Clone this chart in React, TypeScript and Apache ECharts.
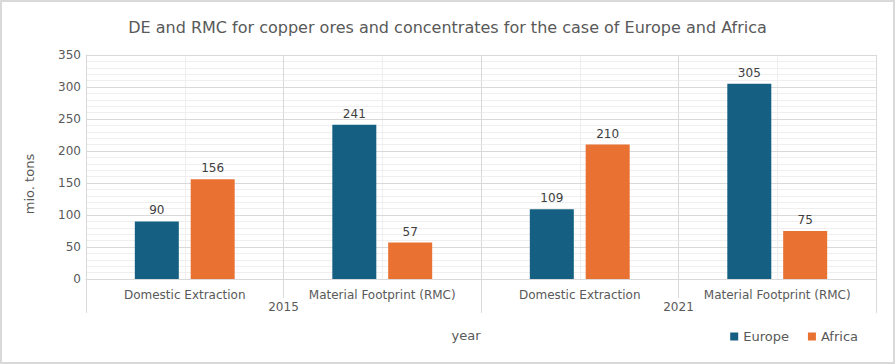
import React, { useEffect, useRef } from "react";
import * as echarts from "echarts";

const title = "DE and RMC for copper ores and concentrates for the case of Europe and Africa";
const categories = [
  "Domestic Extraction",
  "Material Footprint (RMC)",
  "Domestic Extraction",
  "Material Footprint (RMC)",
];
const years = ["2015", "2021"];
const halfSlots = ["a", "b", "c", "d", "e", "f", "g", "h"];
const europe = [90, 241, 109, 305];
const africa = [156, 57, 210, 75];
const seriesNames = ["Europe", "Africa"];
const yTicks = { min: 0, max: 350, interval: 50 };

export default function App() {
  const ref = useRef<HTMLDivElement>(null);
  useEffect(() => {
    if (!ref.current) return;
    const chart = echarts.init(ref.current, null, { renderer: "svg" });
    const text = "#595959";
    const grid = "#d9d9d9";
    const light = "#efefef";
    chart.setOption({
      animation: false,
      textStyle: { fontFamily: "DejaVu Sans" },
      title: {
        text: title,
        left: "center",
        top: 12,
        textStyle: { fontSize: 16, fontWeight: "normal", color: text, fontFamily: "DejaVu Sans" },
      },
      legend: {
        data: seriesNames,
        right: 30,
        top: 323,
        icon: "rect",
        itemWidth: 8,
        itemHeight: 8,
        itemGap: 19,
        textStyle: { fontSize: 13, color: text, fontFamily: "DejaVu Sans" },
      },
      grid: { left: 84, right: 17, top: 53, bottom: 83, containLabel: false },
      xAxis: [
        {
          type: "category",
          data: categories,
          position: "bottom",
          z: 3,
          axisLine: { show: true, lineStyle: { color: grid, width: 1 } },
          axisTick: { show: true, length: 19, lineStyle: { color: grid } },
          axisLabel: { fontSize: 12, color: text, margin: 10, interval: 0 },
          splitLine: { show: true, lineStyle: { color: grid, width: 1 } },
        },
        {
          type: "category",
          data: years,
          position: "bottom",
          z: 3,
          axisLine: { show: false },
          axisTick: { show: true, length: 34, lineStyle: { color: grid } },
          axisLabel: { fontSize: 12, color: text, margin: 22 },
          splitLine: { show: false },
          name: "year",
          nameLocation: "middle",
          nameGap: 50,
          nameTextStyle: { fontSize: 13, color: text, padding: [0, 30, 0, 0] },
        },
        {
          type: "category",
          data: halfSlots,
          position: "bottom",
          z: 1,
          axisLine: { show: false },
          axisTick: { show: false },
          axisLabel: { show: false },
          splitLine: { show: true, lineStyle: { color: light, width: 1 } },
        },
      ],
      yAxis: {
        type: "value",
        min: yTicks.min,
        max: yTicks.max,
        interval: yTicks.interval,
        z: 2,
        axisLine: { show: true, lineStyle: { color: grid } },
        axisTick: { show: false },
        axisLabel: { fontSize: 12, color: text, margin: 5 },
        splitLine: { show: true, lineStyle: { color: grid, width: 1 } },
        minorTick: { show: false, splitNumber: 5 },
        minorSplitLine: { show: true, lineStyle: { color: light, width: 1 } },
        name: "mio. tons",
        nameLocation: "middle",
        nameGap: 50,
        nameTextStyle: { fontSize: 13, color: text, padding: [0, 34, 0, 0] },
      },
      series: [
        {
          name: seriesNames[0],
          type: "bar",
          data: europe,
          xAxisIndex: 0,
          barWidth: 44,
          barGap: "27%",
          itemStyle: { color: "#156082" },
          label: { show: true, position: "top", distance: 5, fontSize: 12, color: "#404040" },
        },
        {
          name: seriesNames[1],
          type: "bar",
          data: africa,
          xAxisIndex: 0,
          barWidth: 44,
          barGap: "27%",
          itemStyle: { color: "#E97132" },
          label: { show: true, position: "top", distance: 5, fontSize: 12, color: "#404040" },
        },
      ],
    });
    return () => chart.dispose();
  }, []);
  return (
    <div
      style={{
        position: "absolute",
        left: 0,
        top: 0,
        width: 895,
        height: 364,
        boxSizing: "border-box",
        border: "2px solid #d9d9d9",
        background: "#fff",
      }}
    >
      <div ref={ref} style={{ width: 891, height: 360 }} />
    </div>
  );
}
